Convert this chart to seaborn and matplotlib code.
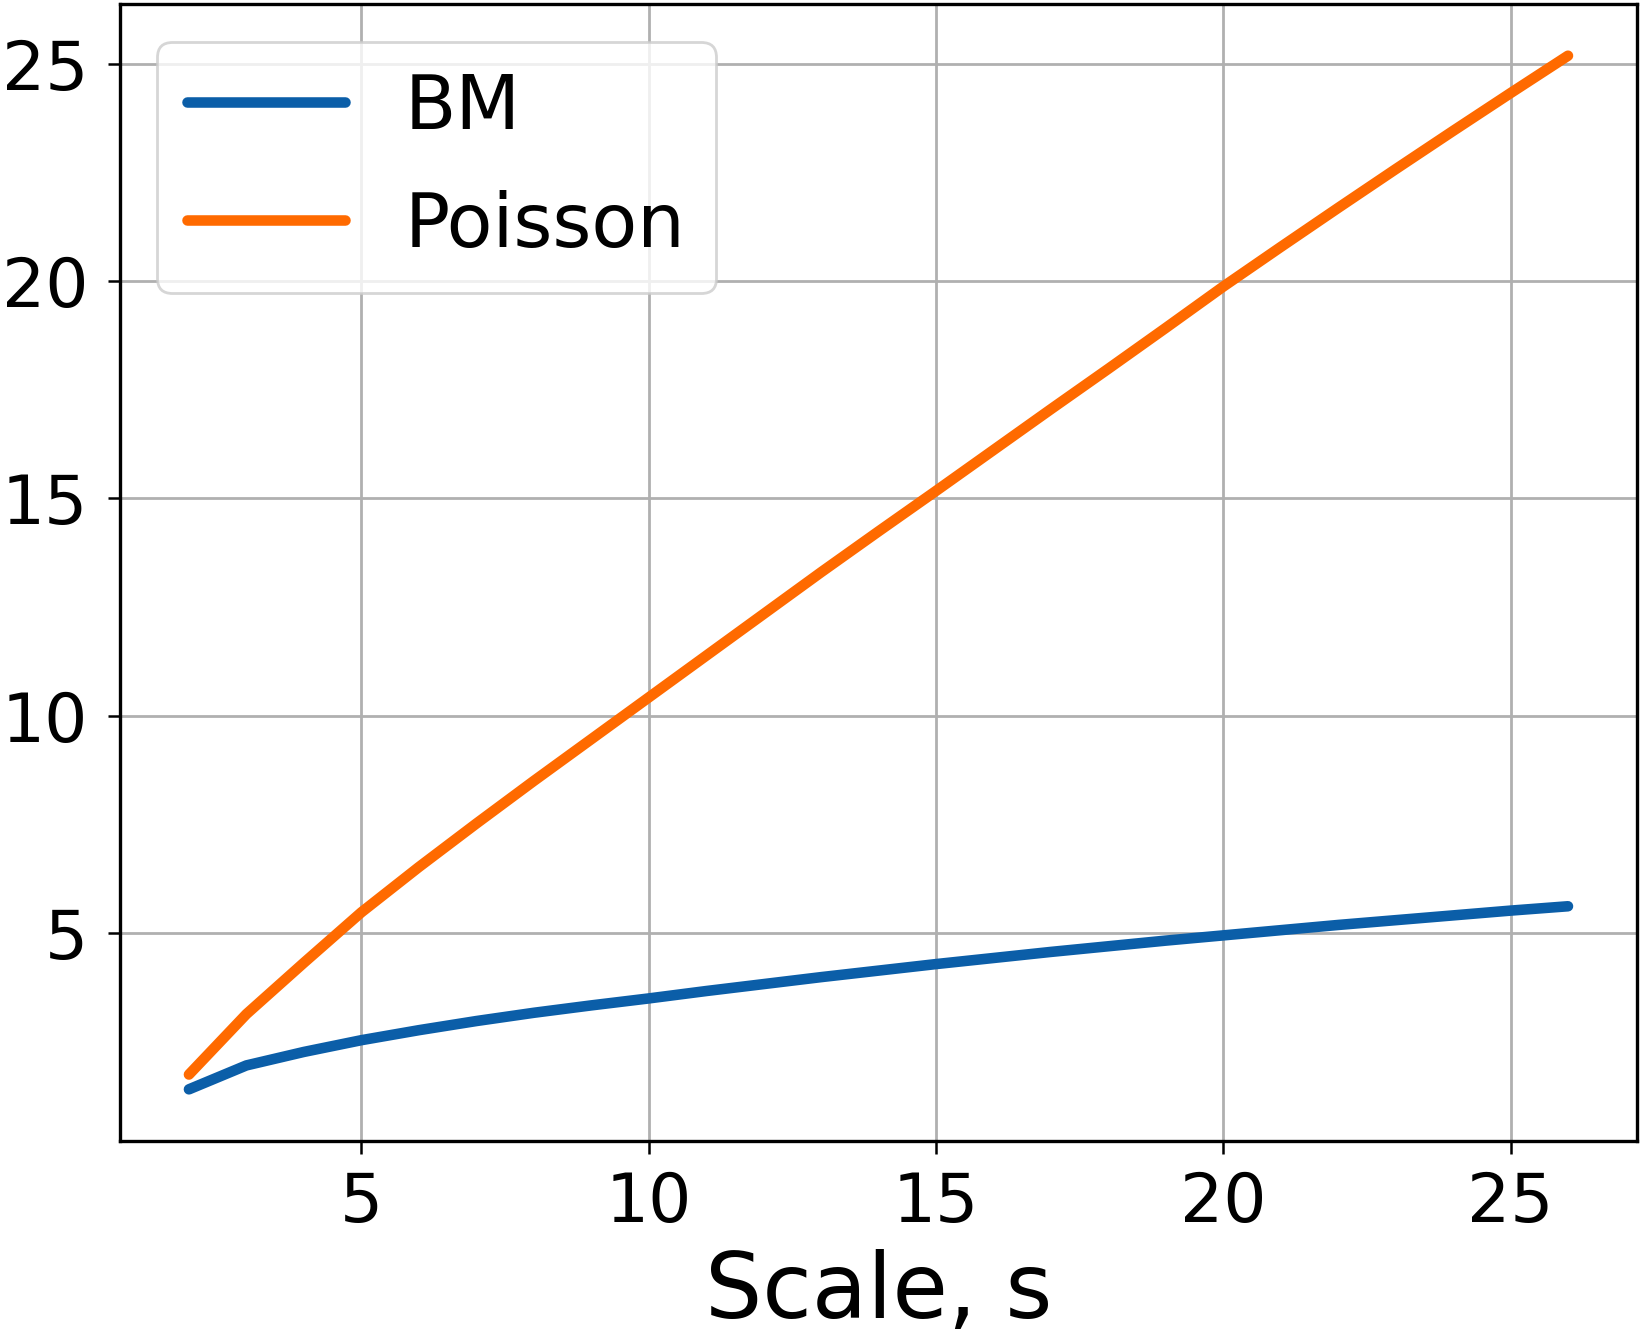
import matplotlib
matplotlib.use("Agg")
import matplotlib.pyplot as plt
import seaborn as sns
import pandas as pd

scales = list(range(2, 27))
bm_values = [1.41, 1.96, 2.27, 2.54, 2.77, 2.98, 3.17, 3.34, 3.50,
             3.67, 3.83, 3.99, 4.14, 4.29, 4.43, 4.57, 4.70, 4.83, 4.95,
             5.07, 5.19, 5.30, 5.41, 5.52, 5.62]
poisson_values = [1.75, 3.14, 4.32, 5.48, 6.52, 7.52, 8.50, 9.46, 10.42,
                  11.38, 12.34, 13.30, 14.24, 15.17, 16.11, 17.05, 17.98, 18.92, 19.87,
                  20.78, 21.68, 22.57, 23.45, 24.32, 25.18]
series_names = ["BM", "Poisson"]
colors = ["#0b5ea8", "#ff6a00"]

df = pd.DataFrame({
    "s": scales * 2,
    "value": bm_values + poisson_values,
    "series": [series_names[0]] * len(scales) + [series_names[1]] * len(scales),
})

sns.set_style("ticks")
plt.rcParams['font.family'] = ['DejaVu Sans']
plt.rcParams['text.color'] = 'black'
plt.rcParams['axes.labelcolor'] = 'black'
plt.rcParams['xtick.color'] = 'black'
plt.rcParams['ytick.color'] = 'black'

fig = plt.figure(figsize=(16.46, 13.43), dpi=100)
ax = fig.add_axes([0.0729, 0.1504, 0.9216, 0.8466])

sns.lineplot(data=df, x="s", y="value", hue="series", palette=colors,
             linewidth=7.6, ax=ax, legend=True)

ax.grid(True, color="#b0b0b0", linewidth=2.0)
ax.set_axisbelow(True)
for sp in ax.spines.values():
    sp.set_linewidth(2.4)
    sp.set_color("black")
ax.tick_params(axis="both", labelsize=49, length=9, width=1.8, color="black",
               labelcolor="black")
ax.tick_params(axis="y", pad=14)
ax.tick_params(axis="x", pad=12)
ax.set_xticks([5, 10, 15, 20, 25])
ax.set_yticks([5, 10, 15, 20, 25])
ax.set_xlabel("Scale, s", fontsize=65, labelpad=9, color="black")
ax.set_ylabel("")

leg = ax.legend(loc="upper left", fontsize=54, frameon=True, framealpha=0.8,
                edgecolor="#cccccc", fancybox=True, handlelength=2.1,
                labelspacing=0.6)
for line in leg.get_lines():
    line.set_linewidth(7.6)
leg.get_frame().set_linewidth(2.0)
for t in leg.get_texts():
    t.set_color("black")

fig.savefig("out.png", dpi=100)
